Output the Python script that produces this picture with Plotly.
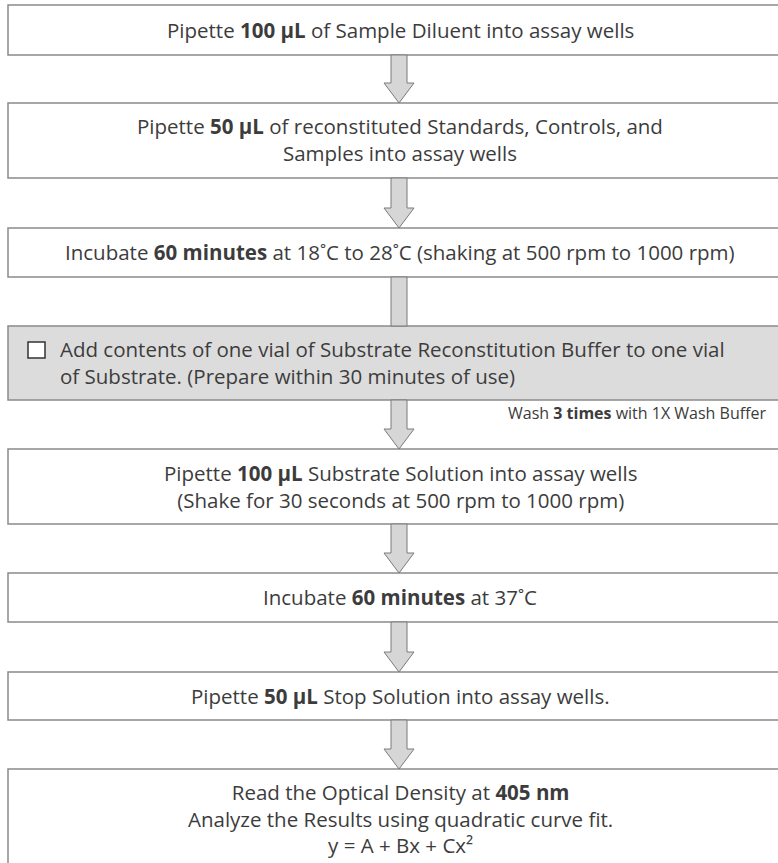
import plotly.graph_objects as go

# ---- content (text of each step, line by line) ----
step_lines = [
    ["Pipette <b>100 µL</b> of Sample Diluent into assay wells"],
    ["Pipette <b>50 µL</b> of reconstituted Standards, Controls, and",
     "Samples into assay wells"],
    ["Incubate <b>60 minutes</b> at 18˚C to 28˚C (shaking at 500 rpm to 1000 rpm)"],
    ["Add contents of one vial of Substrate Reconstitution Buffer to one vial",
     "of Substrate. (Prepare within 30 minutes of use)"],
    ["Pipette <b>100 µL</b> Substrate Solution into assay wells",
     "(Shake for 30 seconds at 500 rpm to 1000 rpm)"],
    ["Incubate <b>60 minutes</b> at 37˚C"],
    ["Pipette <b>50 µL</b> Stop Solution into assay wells."],
    ["Read the Optical Density at <b>405 nm</b>",
     "Analyze the Results using quadratic curve fit.",
     "y = A + Bx + Cx²"],
]
side_note = "Wash <b>3 times</b> with 1X Wash Buffer"
highlight_step = 3          # the shaded checklist step
arrow_has_head = [True, True, False, True, True, True, True]

# ---- layout (pixel geometry) ----
W, H = 778, 863
box_left, box_right = 8, 792
box_top = [5, 103, 228, 326, 449, 573, 672, 769]
box_bot = [55, 178, 277, 400, 524, 622, 720, 900]
text_mid = [30, 139, 252, 362, 486, 597, 696, 818]
cx = 399
shaft_half, head_half, head_len = 8, 15, 20

text_color = "#3c3c3c"
border_color = "#8a8a8a"
shade_fill = "#dcdcdc"
arrow_fill = "#d6d6d6"
font_family = "'Open Sans', 'Noto Sans', sans-serif"
font_size = 20.5

fig = go.Figure()
shapes = []
annotations = []

# boxes
for i, (t, b) in enumerate(zip(box_top, box_bot)):
    shapes.append(dict(
        type="rect", xref="x", yref="y",
        x0=box_left, x1=box_right, y0=t, y1=b,
        fillcolor=shade_fill if i == highlight_step else "white",
        line=dict(color=border_color, width=1.5), layer="below"))

# arrows between boxes
for i, head in enumerate(arrow_has_head):
    y0 = box_bot[i]
    y1 = box_top[i + 1]
    if head:
        yh = y1 - head_len
        path = (f"M{cx - shaft_half},{y0} L{cx + shaft_half},{y0} "
                f"L{cx + shaft_half},{yh} L{cx + head_half},{yh} "
                f"L{cx},{y1} L{cx - head_half},{yh} "
                f"L{cx - shaft_half},{yh} Z")
    else:
        path = (f"M{cx - shaft_half},{y0} L{cx + shaft_half},{y0} "
                f"L{cx + shaft_half},{y1} L{cx - shaft_half},{y1} Z")
    shapes.append(dict(type="path", xref="x", yref="y", path=path,
                       fillcolor=arrow_fill,
                       line=dict(color="#7a7a7a", width=1)))

# texts (one annotation per box, lines joined with <br>)
for i, lines in enumerate(step_lines):
    if i == highlight_step:
        x, xa, al = 58, "left", "left"
    else:
        x, xa, al = cx + 1, "center", "center"
    annotations.append(dict(x=x, y=text_mid[i], xref="x", yref="y",
                            text="<br>".join(lines),
                            xanchor=xa, yanchor="middle", align=al,
                            showarrow=False,
                            font=dict(size=font_size, color=text_color,
                                      family=font_family)))

# checkbox of the shaded step
cb_y = 350
shapes.append(dict(type="rect", xref="x", yref="y",
                   x0=28, x1=45, y0=cb_y - 8, y1=cb_y + 8,
                   fillcolor="white", line=dict(color="#333333", width=1.5)))

# wash note
annotations.append(dict(x=506, y=413, xref="x", yref="y", text=side_note,
                        xanchor="left", yanchor="middle", showarrow=False,
                        font=dict(size=16, color=text_color, family=font_family)))

fig.update_layout(
    width=W, height=H,
    margin=dict(l=0, r=0, t=0, b=0),
    paper_bgcolor="white", plot_bgcolor="white",
    shapes=shapes, annotations=annotations,
    xaxis=dict(range=[0, W], visible=False, fixedrange=True),
    yaxis=dict(range=[H, 0], visible=False, fixedrange=True),
    showlegend=False,
)

fig.write_html("out.html", config={"displayModeBar": False},
               post_script="document.body.style.margin='0';")
